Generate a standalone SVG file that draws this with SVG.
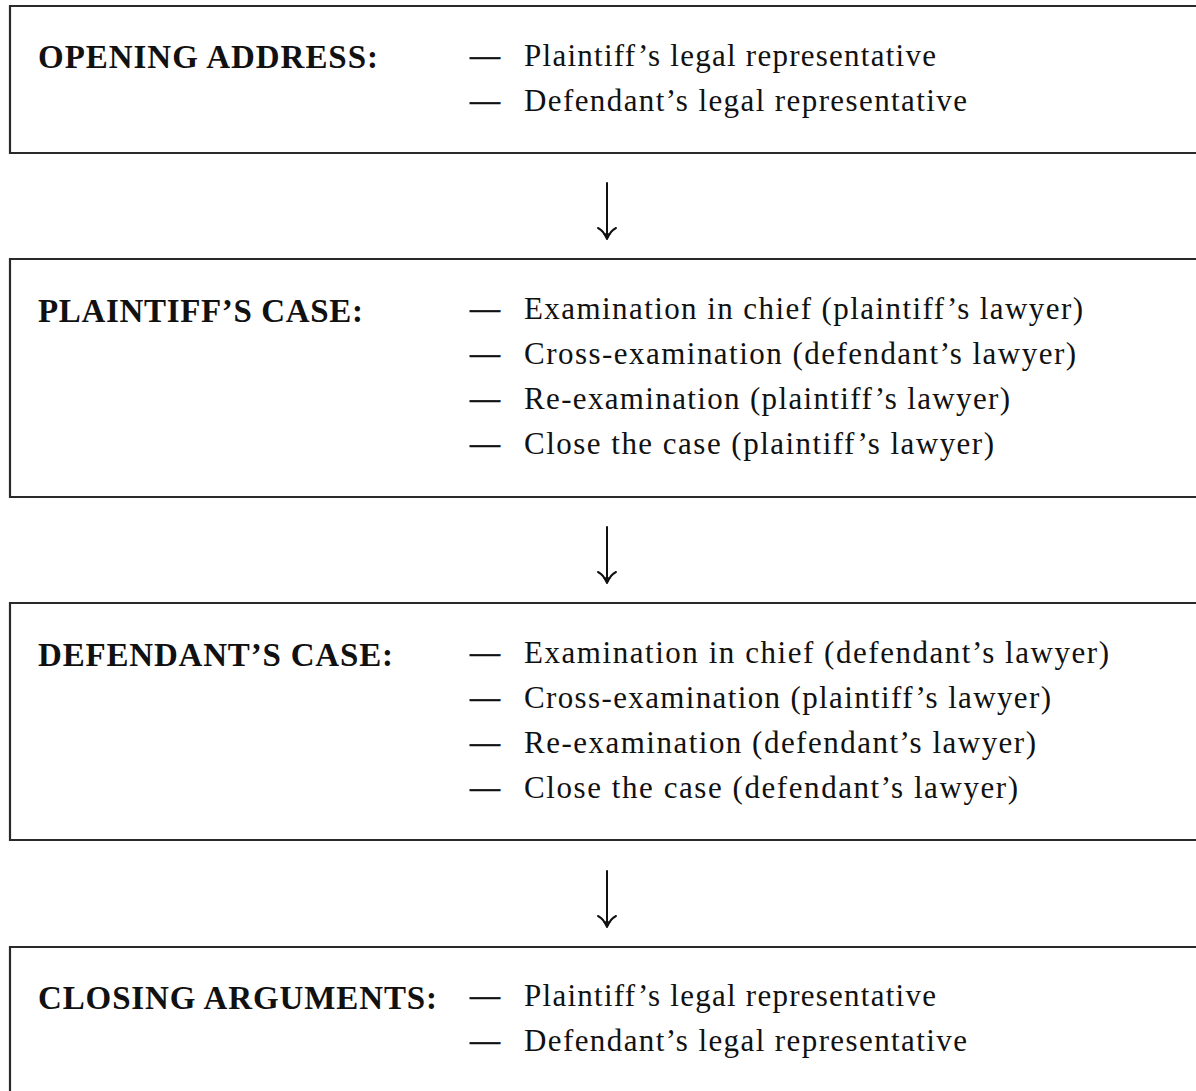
<svg xmlns="http://www.w3.org/2000/svg" width="1196" height="1091" viewBox="0 0 1196 1091">
<defs>
<style>
.box{fill:none;stroke:#2a2a2a;stroke-width:2.2}
.title{font-family:"Liberation Serif","Times New Roman",serif;font-weight:bold;font-size:33px;fill:#111}
.item{font-family:"Liberation Serif","Times New Roman",serif;font-size:31px;fill:#111}
.dash{font-family:"Liberation Serif","Times New Roman",serif;font-size:31px;fill:#111;stroke:#111;stroke-width:0.6}
.arr{fill:none;stroke:#111;stroke-width:2;stroke-linecap:round;stroke-linejoin:round}
.tip{fill:#111;stroke:none}
</style>
</defs>
<rect width="1196" height="1091" fill="#fff"/>
<g id="node-opening">
<path class="box" d="M1200,6 H10 V153 H1200"/>
<text class="title" x="38" y="68" textLength="340" lengthAdjust="spacing">OPENING ADDRESS:</text>
<text class="dash" x="470" y="66" textLength="30" lengthAdjust="spacingAndGlyphs">—</text>
<text class="item" x="524" y="66" textLength="412" lengthAdjust="spacing">Plaintiff’s legal representative</text>
<text class="dash" x="470" y="111" textLength="30" lengthAdjust="spacingAndGlyphs">—</text>
<text class="item" x="524" y="111" textLength="443" lengthAdjust="spacing">Defendant’s legal representative</text>
</g>
<g id="node-plaintiff">
<path class="box" d="M1200,259 H10 V497 H1200"/>
<text class="title" x="38" y="322" textLength="325" lengthAdjust="spacing">PLAINTIFF’S CASE:</text>
<text class="dash" x="470" y="319" textLength="30" lengthAdjust="spacingAndGlyphs">—</text>
<text class="item" x="524" y="319" textLength="559" lengthAdjust="spacing">Examination in chief (plaintiff’s lawyer)</text>
<text class="dash" x="470" y="364" textLength="30" lengthAdjust="spacingAndGlyphs">—</text>
<text class="item" x="524" y="364" textLength="552" lengthAdjust="spacing">Cross-examination (defendant’s lawyer)</text>
<text class="dash" x="470" y="409" textLength="30" lengthAdjust="spacingAndGlyphs">—</text>
<text class="item" x="524" y="409" textLength="486" lengthAdjust="spacing">Re-examination (plaintiff’s lawyer)</text>
<text class="dash" x="470" y="454" textLength="30" lengthAdjust="spacingAndGlyphs">—</text>
<text class="item" x="524" y="454" textLength="470" lengthAdjust="spacing">Close the case (plaintiff’s lawyer)</text>
</g>
<g id="node-defendant">
<path class="box" d="M1200,603 H10 V840 H1200"/>
<text class="title" x="38" y="666" textLength="355" lengthAdjust="spacing">DEFENDANT’S CASE:</text>
<text class="dash" x="470" y="663" textLength="30" lengthAdjust="spacingAndGlyphs">—</text>
<text class="item" x="524" y="663" textLength="585" lengthAdjust="spacing">Examination in chief (defendant’s lawyer)</text>
<text class="dash" x="470" y="708" textLength="30" lengthAdjust="spacingAndGlyphs">—</text>
<text class="item" x="524" y="708" textLength="527" lengthAdjust="spacing">Cross-examination (plaintiff’s lawyer)</text>
<text class="dash" x="470" y="753" textLength="30" lengthAdjust="spacingAndGlyphs">—</text>
<text class="item" x="524" y="753" textLength="512" lengthAdjust="spacing">Re-examination (defendant’s lawyer)</text>
<text class="dash" x="470" y="798" textLength="30" lengthAdjust="spacingAndGlyphs">—</text>
<text class="item" x="524" y="798" textLength="494" lengthAdjust="spacing">Close the case (defendant’s lawyer)</text>
</g>
<g id="node-closing">
<path class="box" d="M1200,947 H10 V1100"/>
<text class="title" x="38" y="1009" textLength="399" lengthAdjust="spacing">CLOSING ARGUMENTS:</text>
<text class="dash" x="470" y="1006" textLength="30" lengthAdjust="spacingAndGlyphs">—</text>
<text class="item" x="524" y="1006" textLength="412" lengthAdjust="spacing">Plaintiff’s legal representative</text>
<text class="dash" x="470" y="1051" textLength="30" lengthAdjust="spacingAndGlyphs">—</text>
<text class="item" x="524" y="1051" textLength="443" lengthAdjust="spacing">Defendant’s legal representative</text>
</g>
<g id="connectors">
<path class="arr" d="M607,183 V238 M598,228 Q604,231 607,239 Q610,231 616,228"/>
<path class="tip" d="M602,232 L607,240 L612,232 Q607,235 602,232 Z"/>
<path class="arr" d="M607,527 V582 M598,572 Q604,575 607,583 Q610,575 616,572"/>
<path class="tip" d="M602,576 L607,584 L612,576 Q607,579 602,576 Z"/>
<path class="arr" d="M607,871 V926 M598,916 Q604,919 607,927 Q610,919 616,916"/>
<path class="tip" d="M602,920 L607,928 L612,920 Q607,923 602,920 Z"/>
</g>
</svg>
